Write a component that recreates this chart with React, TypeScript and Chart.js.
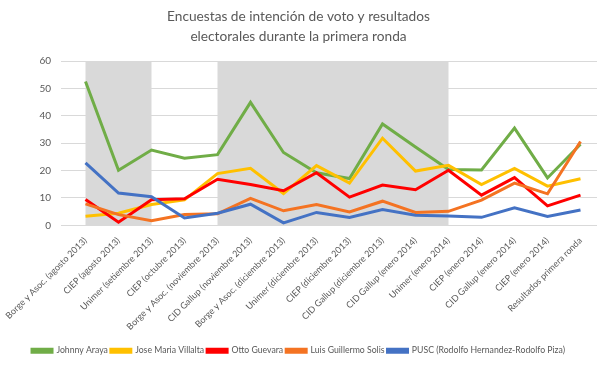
import React, { useEffect, useRef } from "react";
import { Chart, registerables } from "chart.js";

Chart.register(...registerables);

const categories = [
  "Borge y Asoc. (agosto 2013)",
  "CIEP (agosto 2013)",
  "Unimer (setiembre 2013)",
  "CIEP (octubre 2013)",
  "Borge y Asoc. (noviembre 2013)",
  "CID Gallup (noviembre 2013)",
  "Borge y Asoc. (diciembre 2013)",
  "Unimer (diciembre 2013)",
  "CIEP (diciembre 2013)",
  "CID Gallup (diciembre 2013)",
  "CID Gallup (enero 2014)",
  "Unimer (enero 2014)",
  "CIEP (enero 2014)",
  "CID Gallup (enero 2014)",
  "CIEP (enero 2014)",
  "Resultados primera ronda",
];

const johnnyAraya = [52.5, 20.1, 27.5, 24.5, 25.8, 44.9, 26.6, 19.2, 17.1, 37.0, 28.6, 20.4, 20.2, 35.5, 17.3, 29.6];
const joseMariaVillalta = [3.3, 4.4, 7.6, 9.3, 18.9, 20.8, 11.6, 21.8, 15.4, 31.8, 19.8, 21.9, 14.9, 20.8, 14.3, 17.0];
const ottoGuevara = [9.4, 1.1, 9.3, 9.7, 16.8, 14.9, 12.6, 19.2, 10.3, 14.7, 13.0, 20.1, 11.0, 17.4, 7.1, 11.0];
const luisGuillermoSolis = [7.8, 3.9, 1.7, 3.9, 4.2, 9.8, 5.3, 7.6, 4.9, 8.8, 4.7, 5.1, 9.2, 15.4, 11.5, 30.6];
const pusc = [22.8, 11.8, 10.4, 2.7, 4.4, 7.7, 0.9, 4.7, 2.9, 5.8, 3.7, 3.4, 2.9, 6.4, 3.2, 5.6];

const seriesNames = [
  "Johnny Araya",
  "Jose Maria Villalta",
  "Otto Guevara",
  "Luis Guillermo Solis",
  "PUSC (Rodolfo Hernandez-Rodolfo Piza)",
];
const seriesData = [johnnyAraya, joseMariaVillalta, ottoGuevara, luisGuillermoSolis, pusc];
const seriesColors = ["#70AD47", "#FFC000", "#FF0000", "#F47322", "#4472C4"];

// shaded category ranges [startIndex, endIndex]
const shadedRanges: [number, number][] = [
  [0, 2],
  [4, 11],
];

const FONT = "Lato, 'Open Sans', sans-serif";
const TEXT = "#595959";

const shadePlugin = {
  id: "shadeBands",
  beforeDatasetsDraw(chart: any) {
    const { ctx, chartArea, scales } = chart;
    const x = scales.x;
    ctx.save();
    ctx.fillStyle = "#D9D9D9";
    for (const [a, b] of shadedRanges) {
      const x0 = x.getPixelForValue(a);
      const x1 = x.getPixelForValue(b);
      ctx.fillRect(x0, chartArea.top, x1 - x0, chartArea.bottom - chartArea.top);
    }
    ctx.restore();
  },
};

export default function App() {
  const ref = useRef<HTMLCanvasElement>(null);
  useEffect(() => {
    document.body.style.margin = "0";
    const chart = new Chart(ref.current!, {
      type: "line",
      data: {
        labels: categories,
        datasets: seriesNames.map((name, i) => ({
          label: name,
          data: seriesData[i],
          borderColor: seriesColors[i],
          backgroundColor: seriesColors[i],
          borderWidth: 3,
          pointRadius: 0,
          tension: 0,
          order: seriesNames.length - i,
        })),
      },
      options: {
        animation: false,
        responsive: false,
        maintainAspectRatio: false,
        layout: { padding: { left: 0, right: 12, top: 0, bottom: 2 } },
        plugins: {
          title: {
            display: true,
            text: [
              "Encuestas de intención de voto y resultados",
              "electorales durante la primera ronda",
            ],
            color: TEXT,
            font: { family: FONT, size: 13.7, weight: "normal", lineHeight: "20px" },
            padding: { top: 7, bottom: 14 },
          },
          legend: {
            position: "bottom",
            labels: {
              color: TEXT,
              font: { family: FONT, size: 8.7 },
              boxWidth: 20,
              boxHeight: 3,
              padding: 3,
              sort: (a: any, b: any) => a.datasetIndex - b.datasetIndex,
            },
          },
          tooltip: { enabled: false },
        },
        scales: {
          x: {
            offset: true,
            grid: { display: false },
            border: { display: false },
            afterFit: (s: any) => {
              s.height = 118;
            },
            ticks: {
              color: TEXT,
              font: { family: FONT, size: 9 },
              maxRotation: 45,
              minRotation: 45,
              autoSkip: false,
              padding: 2,
            },
          },
          y: {
            min: 0,
            max: 60,
            grid: { color: "#D9D9D9", lineWidth: 1 },
            border: { display: false },
            afterFit: (s: any) => {
              s.width = 69;
            },
            ticks: {
              stepSize: 10,
              color: TEXT,
              font: { family: FONT, size: 10 },
              padding: 10,
            },
          },
        },
      },
      plugins: [shadePlugin],
    });
    return () => chart.destroy();
  }, []);
  return <canvas ref={ref} width={609} height={367} style={{ display: "block" }} />;
}
